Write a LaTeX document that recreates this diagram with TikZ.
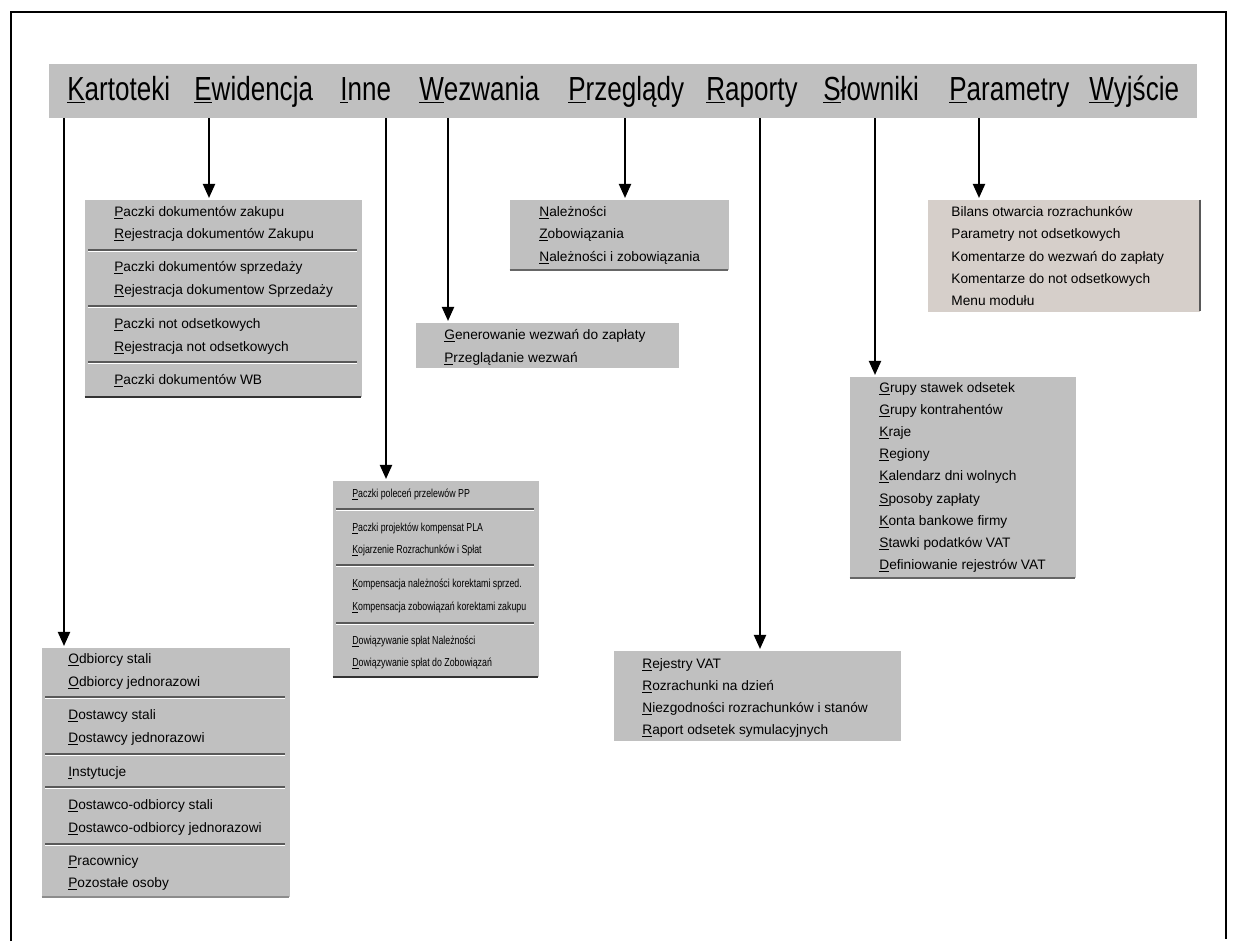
\documentclass[tikz,border=0pt]{standalone}
\usepackage{fontspec}
\setmainfont{Liberation Sans}
\newfontfamily\barfont{Liberation Sans}[FakeStretch=0.78]
\newfontfamily\narrowfont{Liberation Sans}[FakeStretch=0.76]
\usetikzlibrary{positioning}
\usetikzlibrary{arrows.meta,fit}

\definecolor{menugray}{RGB}{192,192,192}
\definecolor{panelgray}{RGB}{214,207,202}

% separator line inside a menu: x1, x2, y
\newcommand{\menusep}[3]{%
  \draw[sepdark] (#1,#3) -- (#2,#3);
  \draw[seplight] (#1,#3+1.5) -- (#2,#3+1.5);}

\begin{document}
\begin{tikzpicture}[x=0.02cm,y=-0.02cm,>={Triangle[width=7pt,length=8pt]},
    shorten >=1pt,
    menubox/.style={fill=menugray,draw=none,inner sep=0pt},
    barword/.style={anchor=base west,inner sep=0pt,font=\barfont\fontsize{19}{22}\selectfont},
    item/.style={anchor=base west,inner sep=0pt,font=\fontsize{7.8}{9}\selectfont},
    smallitem/.style={anchor=base west,inner sep=0pt,font=\narrowfont\fontsize{6.6}{8}\selectfont},
    link/.style={->,line width=0.8pt},
    sepdark/.style={draw=gray!70!black,line width=0.6pt},
    seplight/.style={draw=white,line width=0.6pt},
    edge/.style={draw=black!80,line width=1.1pt}]

  \useasboundingbox (0,0) rectangle (1247,941);

  % frame
  \draw[line width=1.2pt] (11,941) -- (11,12) -- (1226,12) -- (1226,941);

  % menu bar
  \node[menubox,fit={(49,64) (1197,118)}] (bar) {};
  \node[barword] (kart) at (67,100) {\underline{K}artoteki};
  \node[barword] (ewid) at (194,100) {\underline{E}widencja};
  \node[barword] (inne) at (340,100) {\underline{I}nne};
  \node[barword] (wezw) at (419,100) {\underline{W}ezwania};
  \node[barword] (przeg) at (568,100) {\underline{P}rzeglądy};
  \node[barword] (rap) at (706,100) {\underline{R}aporty};
  \node[barword] (slow) at (823,100) {\underline{S}łowniki};
  \node[barword] (param) at (949,100) {\underline{P}arametry};
  \node[barword] (wyj) at (1089,100) {\underline{W}yjście};

  % Ewidencja
  \node[menubox,fit={(85,200) (362,397)}] (ebox) {};
  \foreach \y/\t in {216/{\underline{P}aczki dokumentów zakupu},
                     238/{\underline{R}ejestracja dokumentów Zakupu},
                     271/{\underline{P}aczki dokumentów sprzedaży},
                     294/{\underline{R}ejestracja dokumentow Sprzedaży},
                     328/{\underline{P}aczki not odsetkowych},
                     351/{\underline{R}ejestracja not odsetkowych},
                     384/{\underline{P}aczki dokumentów WB}}
    \node[item] at (114,\y) {\t};
  \menusep{88}{359}{250}
  \menusep{88}{359}{306}
  \menusep{88}{359}{362}
  \draw[edge] (ebox.south west) -- (ebox.south east);

  % Przeglady
  \node[menubox,fit={(510,200) (729,270)}] (pbox) {};
  \foreach \y/\t in {216/{\underline{N}ależności},
                     238/{\underline{Z}obowiązania},
                     261/{\underline{N}ależności i zobowiązania}}
    \node[item] at (539,\y) {\t};
  \draw[edge,draw=black!60] (pbox.south west) -- (pbox.south east);

  % Wezwania
  \node[menubox,fit={(416,323) (679,368)}] (wbox) {};
  \foreach \y/\t in {339/{\underline{G}enerowanie wezwań do zapłaty},
                     362/{\underline{P}rzeglądanie wezwań}}
    \node[item] at (444,\y) {\t};

  % Parametry
  \node[menubox,fill=panelgray,fit={(928,200) (1200,312)}] (parbox) {};
  \foreach \y/\t in {216/{Bilans otwarcia rozrachunków},
                     238/{Parametry not odsetkowych},
                     261/{Komentarze do wezwań do zapłaty},
                     283/{Komentarze do not odsetkowych},
                     305/{Menu modułu}}
    \node[item] at (951,\y) {\t};
  \draw[edge,draw=black!65] (parbox.north east) -- (parbox.south east);

  % Slowniki
  \node[menubox,fit={(850,377) (1076,578)}] (sbox) {};
  \foreach \y/\t in {392/{\underline{G}rupy stawek odsetek},
                     414/{\underline{G}rupy kontrahentów},
                     436/{\underline{K}raje},
                     458/{\underline{R}egiony},
                     480/{\underline{K}alendarz dni wolnych},
                     503/{\underline{S}posoby zapłaty},
                     525/{\underline{K}onta bankowe firmy},
                     547/{\underline{S}tawki podatków VAT},
                     569/{\underline{D}efiniowanie rejestrów VAT}}
    \node[item] at (879,\y) {\t};
  \draw[edge,draw=black!60] (sbox.south west) -- (sbox.south east);

  % Inne
  \node[menubox,fit={(333,481) (539,677)}] (ibox) {};
  \foreach \y/\t in {497/{\underline{P}aczki poleceń przelewów PP},
                     531/{\underline{P}aczki projektów kompensat PLA},
                     553/{\underline{K}ojarzenie Rozrachunków i Spłat},
                     587/{\underline{K}ompensacja należności korektami sprzed.},
                     610/{\underline{K}ompensacja zobowiązań korektami zakupu},
                     644/{\underline{D}owiązywanie spłat Należności},
                     666/{\underline{D}owiązywanie spłat do Zobowiązań}}
    \node[smallitem] at (352,\y) {\t};
  \menusep{336}{536}{509}
  \menusep{336}{536}{565}
  \menusep{336}{536}{623}
  \draw[edge] (ibox.south west) -- (ibox.south east);

  % Raporty
  \node[menubox,fit={(614,651) (901,741)}] (rbox) {};
  \foreach \y/\t in {668/{\underline{R}ejestry VAT},
                     690/{\underline{R}ozrachunki na dzień},
                     712/{\underline{N}iezgodności rozrachunków i stanów},
                     734/{\underline{R}aport odsetek symulacyjnych}}
    \node[item] at (642,\y) {\t};

  % Kartoteki
  \node[menubox,fit={(42,648) (290,897)}] (kbox) {};
  \foreach \y/\t in {663/{\underline{O}dbiorcy stali},
                     686/{\underline{O}dbiorcy jednorazowi},
                     719/{\underline{D}ostawcy stali},
                     742/{\underline{D}ostawcy jednorazowi},
                     776/{\underline{I}nstytucje},
                     809/{\underline{D}ostawco-odbiorcy stali},
                     832/{\underline{D}ostawco-odbiorcy jednorazowi},
                     865/{\underline{P}racownicy},
                     887/{\underline{P}ozostałe osoby}}
    \node[item] at (68,\y) {\t};
  \menusep{45}{287}{697}
  \menusep{45}{287}{754}
  \menusep{45}{287}{787}
  \menusep{45}{287}{844}
  \draw[edge,draw=black!45] (kbox.south west) -- (kbox.south east);

  % arrows from the bar
  \coordinate (a1) at (64,118);
  \coordinate (a2) at (209,118);
  \coordinate (a3) at (386,118);
  \coordinate (a4) at (448,118);
  \coordinate (a5) at (625,118);
  \coordinate (a6) at (760,118);
  \coordinate (a7) at (875,118);
  \coordinate (a8) at (979,118);
  \draw[link] (a1) -- (a1 |- kbox.north);
  \draw[link] (a2) -- (a2 |- ebox.north);
  \draw[link] (a3) -- (a3 |- ibox.north);
  \draw[link] (a4) -- (a4 |- wbox.north);
  \draw[link] (a5) -- (a5 |- pbox.north);
  \draw[link] (a6) -- (a6 |- rbox.north);
  \draw[link] (a7) -- (a7 |- sbox.north);
  \draw[link] (a8) -- (a8 |- parbox.north);

\end{tikzpicture}
\end{document}
